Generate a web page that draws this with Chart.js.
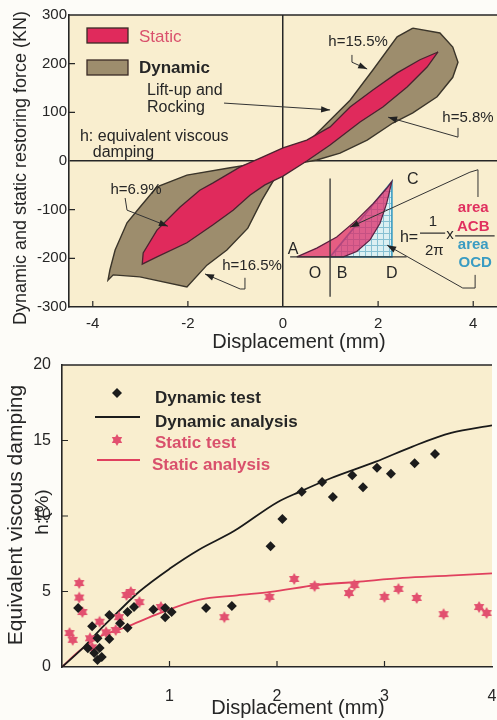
<!DOCTYPE html>
<html lang="en">
<head>
<meta charset="UTF-8">
<title>Restoring force loops and equivalent viscous damping</title>
<script src="https://cdn.jsdelivr.net/npm/chart.js@4"></script>
<style>
  html, body { margin: 0; padding: 0; background: #fdfcf8; }
  #wrap { position: relative; width: 497px; height: 720px; overflow: hidden; }
  canvas { position: absolute; left: 0; }
  #topChart { top: 0; }
  #botChart { top: 350px; }
</style>
</head>
<body>
<div id="wrap">
  <canvas id="topChart" width="497" height="360"></canvas>
  <canvas id="botChart" width="497" height="370"></canvas>
</div>
<script>
const FONT = '"Liberation Sans", Arial, Helvetica, sans-serif';
const CREAM = '#f9eecf';
const INK = '#262626';
const PINK_TXT = '#d9506c';
const BLUE_TXT = '#3a9cc2';

// ---------- top chart: restoring force loops (KN vs mm)
const topXTicks = [-4, -2, 0, 2, 4];
const topYTicks = [-300, -200, -100, 0, 100, 200, 300];

const dynLoopX = [2.73, 3.30, 3.57, 3.68, 3.57, 3.24, 2.73, 2.31, 1.77, 1.20, 0.71, 0.15, -0.17, -0.44, -0.74, -1.18, -1.60, -2.02,
                  -3.01, -3.57, -3.68, -3.64, -3.53, -3.28, -3.01, -2.65, -2.02, -1.11, -0.48, 0, 0.36, 0.63, 0.93, 1.41, 1.89, 2.40, 2.73];
const dynLoopY = [273, 263, 234, 203, 172, 132, 99, 78, 43, 16, 2, -8, -35, -80, -138, -183, -214, -259,
                  -238, -234, -245, -224, -183, -127, -95, -53, -29, -14, -4, 6, 23, 49, 78, 125, 187, 255, 273];

const staLoopX = [3.26, 3.03, 2.61, 2.10, 1.62, 0.99, 0.50, 0, -0.38, -0.69, -1.05, -1.47, -2.02, -2.65, -2.96,
                  -2.94, -2.65, -2.17, -1.75, -1.47, -0.90, -0.48, 0, 0.50, 0.99, 1.41, 1.89, 2.40, 2.88, 3.26];
const staLoopY = [224, 193, 152, 111, 80, 33, 0, -31, -49, -70, -101, -131, -168, -197, -212,
                  -189, -142, -95, -60, -45, -12, 6, 27, 43, 70, 111, 146, 181, 208, 224];

// inset sketch: h = (1/2pi) * area ACB / area OCD
const insetLoopX = [0.29, 0.71, 1.13, 1.55, 1.90, 2.18, 2.29, 2.18, 2.04, 1.83, 1.55, 1.27, 0.29];
const insetLoopY = [-197, -179, -156, -121, -87, -56, -42, -87, -128, -162, -186, -197, -197];
const insetTriX = [0.99, 2.29, 2.29, 0.99];
const insetTriY = [-197, -42, -197, -197];
const insetBaseX = [0.15, 2.60];
const insetBaseY = [-197, -197];
const insetAxisX = [0.99, 0.99];
const insetAxisY = [-36, -279];

// ---------- bottom chart: equivalent viscous damping h (%) vs mm
const botXTicks = [1, 2, 3, 4];
const botYTicks = [0, 5, 10, 15, 20];

const dynTestX = [0.15, 0.24, 0.28, 0.30, 0.33, 0.33, 0.35, 0.37, 0.44, 0.44, 0.54, 0.61, 0.61, 0.67, 0.85, 0.96, 0.96, 1.02,
                  1.34, 1.58, 1.94, 2.05, 2.23, 2.42, 2.52, 2.70, 2.80, 2.93, 3.06, 3.28, 3.47];
const dynTestY = [3.9, 1.25, 2.7, 0.93, 0.46, 1.9, 1.26, 0.66, 3.44, 1.85, 2.9, 2.6, 3.64, 3.97, 3.8, 3.9, 3.3, 3.64,
                  3.9, 4.04, 8.0, 9.8, 11.6, 12.25, 11.26, 12.7, 11.9, 13.2, 12.8, 13.5, 14.1];

const staTestX = [0.07, 0.10, 0.16, 0.16, 0.19, 0.26, 0.28, 0.35, 0.41, 0.50, 0.53, 0.60, 0.64, 0.72, 0.92,
                  1.51, 1.93, 2.16, 2.35, 2.67, 2.72, 3.00, 3.13, 3.30, 3.55, 3.88, 3.95];
const staTestY = [2.25, 1.8, 5.56, 4.6, 3.64, 1.9, 1.3, 3.0, 2.3, 2.45, 3.3, 4.77, 4.97, 4.3, 3.97,
                  3.3, 4.64, 5.83, 5.36, 4.9, 5.43, 4.64, 5.17, 4.57, 3.5, 3.97, 3.58];

const dynAnaX = [0, 0.2, 0.35, 0.5, 0.72, 1.0, 1.27, 1.6, 2.0, 2.21, 2.5, 2.92, 3.26, 3.62, 4.0];
const dynAnaY = [0, 1.3, 2.45, 3.5, 5.0, 6.5, 7.75, 9.0, 10.9, 11.6, 12.5, 13.6, 14.6, 15.5, 16.0];

const staAnaX = [0, 0.15, 0.35, 0.6, 0.87, 1.27, 1.63, 1.94, 2.37, 2.73, 3.17, 3.6, 4.0];
const staAnaY = [0, 1.0, 2.0, 2.65, 3.45, 4.45, 4.75, 4.97, 5.43, 5.63, 5.9, 6.05, 6.2];

const pts = (xs, ys) => xs.map((x, i) => ({ x: x, y: ys[i] }));

// hexagram marker for the static test points
function hexagram(color, r) {
  const c = document.createElement('canvas');
  const s = Math.ceil(r * 2 + 2);
  c.width = s; c.height = s;
  const g = c.getContext('2d');
  g.fillStyle = color;
  [-Math.PI / 2, Math.PI / 2].forEach(off => {
    g.beginPath();
    for (let i = 0; i < 3; i++) {
      const a = off + i * 2 * Math.PI / 3;
      const px = s / 2 + r * Math.cos(a), py = s / 2 + r * Math.sin(a);
      if (i) g.lineTo(px, py); else g.moveTo(px, py);
    }
    g.closePath();
    g.fill();
  });
  return c;
}
const starImg = hexagram('#e2506f', 6);

// light blue grid hatch for triangle OCD
function gridPattern(ctx) {
  const c = document.createElement('canvas');
  c.width = 6; c.height = 6;
  const g = c.getContext('2d');
  g.fillStyle = '#dcf0f2'; g.fillRect(0, 0, 6, 6);
  g.fillStyle = '#86c0d2'; g.fillRect(5, 0, 1, 6); g.fillRect(0, 5, 6, 1);
  return ctx.createPattern(c, 'repeat');
}

function arrowLine(ctx, path) {
  ctx.beginPath();
  path.forEach((p, i) => i ? ctx.lineTo(p[0], p[1]) : ctx.moveTo(p[0], p[1]));
  ctx.stroke();
  const [x1, y1] = path[path.length - 2], [x2, y2] = path[path.length - 1];
  const ang = Math.atan2(y2 - y1, x2 - x1);
  ctx.beginPath();
  ctx.moveTo(x2, y2);
  ctx.lineTo(x2 - 9 * Math.cos(ang) + 3.2 * Math.sin(ang), y2 - 9 * Math.sin(ang) - 3.2 * Math.cos(ang));
  ctx.lineTo(x2 - 9 * Math.cos(ang) - 3.2 * Math.sin(ang), y2 - 9 * Math.sin(ang) + 3.2 * Math.cos(ang));
  ctx.closePath();
  ctx.fill();
}

// cream plot background
const plotBg = {
  id: 'plotBg',
  beforeDraw(chart) {
    const { ctx, chartArea: a } = chart;
    ctx.save();
    ctx.fillStyle = CREAM;
    ctx.fillRect(a.left, a.top, a.right - a.left, a.bottom - a.top);
    ctx.restore();
  }
};

// top border line + short inward ticks
const frame = {
  id: 'frame',
  afterDatasetsDraw(chart, args, opts) {
    const { ctx, chartArea: a, scales } = chart;
    ctx.save();
    ctx.strokeStyle = INK;
    ctx.lineWidth = 1.6;
    ctx.beginPath();
    ctx.moveTo(a.left, a.top); ctx.lineTo(a.right, a.top);
    ctx.stroke();
    ctx.lineWidth = 1.2;
    ctx.beginPath();
    opts.xIn.forEach(v => {
      const p = scales.x.getPixelForValue(v);
      ctx.moveTo(p, a.bottom); ctx.lineTo(p, a.bottom - 6);
    });
    opts.yIn.forEach(v => {
      const p = scales.y.getPixelForValue(v);
      ctx.moveTo(a.left, p); ctx.lineTo(a.left + 6, p);
    });
    ctx.stroke();
    ctx.restore();
  }
};

function text(ctx, s, x, y, font, color, align) {
  ctx.font = font;
  ctx.fillStyle = color;
  ctx.textAlign = align || 'center';
  ctx.textBaseline = 'middle';
  ctx.fillText(s, x, y);
}

function vtext(ctx, s, x, y, font, color) {
  ctx.save();
  ctx.translate(x, y);
  ctx.rotate(-Math.PI / 2);
  text(ctx, s, 0, 0, font, color, 'center');
  ctx.restore();
}

// notes, leaders, legend and titles of the top chart
const topNotes = {
  id: 'topNotes',
  afterDraw(chart) {
    const { ctx } = chart;
    const X = v => chart.scales.x.getPixelForValue(v);
    const Y = v => chart.scales.y.getPixelForValue(v);
    const P = (xs, ys) => xs.map((x, i) => [X(x), Y(ys[i])]);
    ctx.save();
    ctx.strokeStyle = '#333';
    ctx.fillStyle = '#222';
    ctx.lineWidth = 1;
    arrowLine(ctx, P([1.45, 1.45, 1.77], [218, 203, 189]));
    arrowLine(ctx, P([-1.24, 0.99], [119, 105]));
    arrowLine(ctx, P([3.68, 3.68, 2.21], [68, 49, 90]));
    arrowLine(ctx, P([-3.32, -3.28, -2.42], [-76, -101, -134]));
    arrowLine(ctx, P([-0.8, -0.8, -0.9, -1.64], [-240, -263, -263, -232]));
    arrowLine(ctx, P([4.10, 4.10, 3.93, 1.41], [-74, -18, -23, -136]));
    arrowLine(ctx, P([4.04, 4.04, 3.78, 2.19], [-234, -261, -261, -173]));

    const f15 = '15px ' + FONT, f16 = '16px ' + FONT;
    text(ctx, 'h=15.5%', X(1.58), Y(245), f15, INK);
    text(ctx, 'Lift-up and', X(-2.86), Y(144), f16, INK, 'left');
    text(ctx, 'Rocking', X(-2.86), Y(109), f16, INK, 'left');
    text(ctx, 'h=5.8%', X(3.89), Y(88), f15, INK);
    text(ctx, 'h: equivalent viscous', X(-4.27), Y(51), f16, INK, 'left');
    text(ctx, 'damping', X(-4.0), Y(18), f16, INK, 'left');
    text(ctx, 'h=6.9%', X(-3.09), Y(-60), f15, INK);
    text(ctx, 'h=16.5%', X(-0.65), Y(-216), f15, INK);

    // inset labels and formula
    ['A', 'C', 'O', 'B', 'D'].forEach((s, i) => {
      text(ctx, s, X([0.21, 2.73, 0.67, 1.24, 2.29][i]), Y([-183, -39, -232, -232, -232][i]), '16px ' + FONT, INK);
    });
    text(ctx, 'h=', X(2.65), Y(-158), '16px ' + FONT, INK);
    text(ctx, '1', X(3.15), Y(-125), '15px ' + FONT, INK);
    text(ctx, '2π', X(3.18), Y(-185), '15px ' + FONT, INK);
    text(ctx, 'x', X(3.51), Y(-152), '15px ' + FONT, INK);
    const fb = 'bold 15px ' + FONT;
    text(ctx, 'area', X(4.0), Y(-97), fb, '#e0305f');
    text(ctx, 'ACB', X(4.0), Y(-136), fb, '#e0305f');
    text(ctx, 'area', X(4.0), Y(-173), fb, BLUE_TXT);
    text(ctx, 'OCD', X(4.04), Y(-210), fb, BLUE_TXT);
    ctx.lineWidth = 1.2;
    ctx.beginPath();
    ctx.moveTo(X(2.88), Y(-148)); ctx.lineTo(X(3.41), Y(-148));
    ctx.moveTo(X(3.62), Y(-154)); ctx.lineTo(X(4.45), Y(-154));
    ctx.stroke();

    // legend swatches
    ctx.lineWidth = 1.3;
    ctx.strokeStyle = '#3a2a26';
    ctx.fillStyle = '#e02a5c';
    ctx.fillRect(87, 28, 41, 15); ctx.strokeRect(87, 28, 41, 15);
    ctx.fillStyle = '#9d8d6d';
    ctx.fillRect(87, 60, 41, 15); ctx.strokeRect(87, 60, 41, 15);
    text(ctx, 'Static', 139, 37, '17px ' + FONT, PINK_TXT, 'left');
    text(ctx, 'Dynamic', 139, 68, 'bold 17px ' + FONT, INK, 'left');

    // axis titles
    text(ctx, 'Displacement (mm)', 299, 342, '20px ' + FONT, INK);
    vtext(ctx, 'Dynamic and static restoring force (KN)', 21, 168, '18px ' + FONT, INK);
    ctx.restore();
  }
};

// legend and titles of the bottom chart
const botNotes = {
  id: 'botNotes',
  afterDraw(chart) {
    const { ctx } = chart;
    ctx.save();
    ctx.fillStyle = '#1c1c1c';
    ctx.beginPath();
    ctx.moveTo(117, 38); ctx.lineTo(122, 43); ctx.lineTo(117, 48); ctx.lineTo(112, 43);
    ctx.closePath(); ctx.fill();
    ctx.lineWidth = 2;
    ctx.strokeStyle = '#1c1c1c';
    ctx.beginPath(); ctx.moveTo(95, 67); ctx.lineTo(140, 67); ctx.stroke();
    ctx.drawImage(starImg, 117 - starImg.width / 2, 90 - starImg.height / 2);
    ctx.strokeStyle = '#e0405e';
    ctx.beginPath(); ctx.moveTo(97, 110); ctx.lineTo(140, 110); ctx.stroke();
    const fb = 'bold 17px ' + FONT;
    text(ctx, 'Dynamic test', 155, 48, fb, INK, 'left');
    text(ctx, 'Dynamic analysis', 155, 72, fb, INK, 'left');
    text(ctx, 'Static test', 155, 93, fb, PINK_TXT, 'left');
    text(ctx, 'Static analysis', 152, 115, fb, PINK_TXT, 'left');

    text(ctx, 'Displacement (mm)', 298, 358, '20px ' + FONT, INK);
    vtext(ctx, 'Equivalent viscous damping', 16, 165, '21px ' + FONT, INK);
    vtext(ctx, 'h:(%)', 43, 162, '19px ' + FONT, INK);
    ctx.restore();
  }
};

function axis(ticksList, pad, fitFn, fontSize, gridColor) {
  return {
    type: 'linear',
    afterBuildTicks: s => { s.ticks = ticksList.map(v => ({ value: v })); },
    afterFit: s => { fitFn(s); s.paddingLeft = 0; s.paddingRight = 0; s.paddingTop = 0; s.paddingBottom = 0; },
    ticks: { font: { family: FONT, size: fontSize }, color: INK, padding: pad, autoSkip: false, maxRotation: 0 },
    grid: gridColor ? { drawTicks: false, lineWidth: 1.5, color: gridColor } : { display: false },
    border: { color: INK, width: 1.6 }
  };
}

const zeroLine = c => (c.tick && c.tick.value === 0) ? INK : 'rgba(0,0,0,0)';

const topCtx = document.getElementById('topChart').getContext('2d');

const topX = axis(topXTicks, 8, s => { s.height = 53; }, 15, zeroLine);
topX.min = -4.5; topX.max = 4.5;
const topY = axis(topYTicks, 2, s => { s.width = 69; }, 15, zeroLine);
topY.min = -300; topY.max = 300;

new Chart(topCtx, {
  type: 'scatter',
  data: {
    datasets: [
      { label: 'Inset axis', data: pts(insetAxisX, insetAxisY), showLine: true, borderColor: '#333', borderWidth: 1.3, pointRadius: 0, order: 1 },
      { label: 'Inset base', data: pts(insetBaseX, insetBaseY), showLine: true, borderColor: '#333', borderWidth: 1.3, pointRadius: 0, order: 2 },
      { label: 'Inset ACB', data: pts(insetLoopX, insetLoopY), showLine: true, fill: 'shape', backgroundColor: 'rgba(222,38,100,0.72)',
        borderColor: '#5a2040', borderWidth: 1.2, pointRadius: 0, order: 3 },
      { label: 'Inset OCD', data: pts(insetTriX, insetTriY), showLine: true, fill: 'shape', backgroundColor: gridPattern(topCtx),
        borderColor: '#3a9cc2', borderWidth: 1.6, pointRadius: 0, order: 4 },
      { label: 'Static', data: pts(staLoopX, staLoopY), showLine: true, fill: 'shape', backgroundColor: '#e02a5c',
        borderColor: '#4a2430', borderWidth: 1.3, pointRadius: 0, order: 5 },
      { label: 'Dynamic', data: pts(dynLoopX, dynLoopY), showLine: true, fill: 'shape', backgroundColor: '#9d8d6d',
        borderColor: '#3b352a', borderWidth: 1.4, pointRadius: 0, order: 6 }
    ]
  },
  options: {
    responsive: false,
    animation: false,
    layout: { padding: { top: 15, right: 0, bottom: 0, left: 0 } },
    plugins: {
      legend: { display: false },
      tooltip: { enabled: false },
      frame: { xIn: [-4, -2, 2, 4], yIn: [-200, -100, 100, 200] }
    },
    scales: { x: topX, y: topY }
  },
  plugins: [plotBg, frame, topNotes]
});

const botX = axis(botXTicks, 12, s => { s.height = 53; }, 16, null);
botX.min = 0; botX.max = 4;
const botY = axis(botYTicks, 3, s => { s.width = 62; }, 16, null);
botY.min = 0; botY.max = 20;

new Chart(document.getElementById('botChart'), {
  type: 'scatter',
  data: {
    datasets: [
      { label: 'Dynamic test', data: pts(dynTestX, dynTestY), pointStyle: 'rectRot', pointRadius: 5,
        backgroundColor: '#1c1c1c', borderColor: '#1c1c1c', borderWidth: 0, order: 1 },
      { label: 'Static test', data: pts(staTestX, staTestY), pointStyle: starImg, order: 2 },
      { label: 'Dynamic analysis', data: pts(dynAnaX, dynAnaY), showLine: true, borderColor: '#1a1a1a', borderWidth: 1.8,
        pointRadius: 0, cubicInterpolationMode: 'monotone', order: 3 },
      { label: 'Static analysis', data: pts(staAnaX, staAnaY), showLine: true, borderColor: '#e0405e', borderWidth: 1.8,
        pointRadius: 0, cubicInterpolationMode: 'monotone', order: 4 }
    ]
  },
  options: {
    responsive: false,
    animation: false,
    layout: { padding: { top: 15, right: 0, bottom: 0, left: 0 } },
    plugins: {
      legend: { display: false },
      tooltip: { enabled: false },
      frame: { xIn: [1, 2, 3], yIn: [5, 10, 15] }
    },
    scales: { x: botX, y: botY }
  },
  plugins: [plotBg, frame, botNotes]
});
</script>
</body>
</html>
